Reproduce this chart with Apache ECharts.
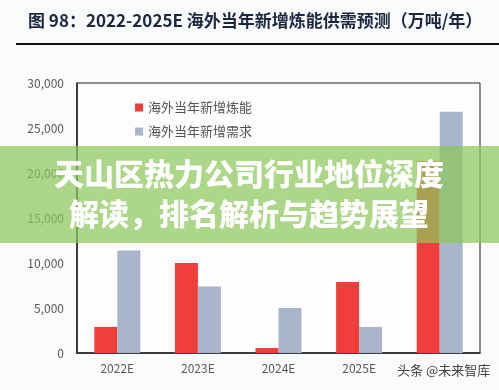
<!DOCTYPE html>
<html>
<head>
<meta charset="utf-8">
<script src="https://cdn.jsdelivr.net/npm/echarts@6/dist/echarts.min.js"></script>
<style>
html,body{margin:0;padding:0;background:#fafbfc;}
#c{width:499px;height:390px;}
</style>
</head>
<body>
<div id="c"></div>
<script>
var categories = ['2022E', '2023E', '2024E', '2025E', '合计'];
var supplyName = '海外当年新增炼能';
var demandName = '海外当年新增需求';
var supplyValues = [2900, 10000, 550, 7900, 21300];
var demandValues = [11400, 7400, 5000, 2900, 26800];
var yTicks = [0, 5000, 10000, 15000, 20000, 25000, 30000];
var titleText = '图 98：2022-2025E 海外当年新增炼能供需预测（万吨/年）';
var bannerLine1 = '天山区热力公司行业地位深度';
var bannerLine2 = '解读，排名解析与趋势展望';
var watermarkText = '头条 @未来智库';

var chart = echarts.init(document.getElementById('c'), null, {renderer: 'canvas'});
var font = '"Noto Sans CJK SC", "Noto Sans", sans-serif';
chart.setOption({
  backgroundColor: '#fafbfc',
  animation: false,
  textStyle: {fontFamily: font},
  grid: {left: 77, right: 19, top: 83, bottom: 37, show: true, borderColor: '#222', borderWidth: 1, backgroundColor: '#fdfdfe'},
  legend: {
    orient: 'vertical', left: 130, top: 96, itemWidth: 8, itemHeight: 8, itemGap: 11,
    icon: 'rect',
    textStyle: {fontSize: 13, color: '#555', fontFamily: font},
    data: [supplyName, demandName]
  },
  xAxis: {
    type: 'category', data: categories,
    axisLine: {lineStyle: {color: '#222', width: 1.5}},
    axisTick: {show: false},
    axisLabel: {color: '#595959', fontSize: 12, margin: 9,
      formatter: function (v, i) { return i < 4 ? v : ''; }}
  },
  yAxis: {
    type: 'value', min: yTicks[0], max: yTicks[yTicks.length - 1], interval: yTicks[1] - yTicks[0],
    axisLine: {show: true, lineStyle: {color: '#222', width: 1.5}},
    axisTick: {show: false},
    splitLine: {show: false},
    axisLabel: {color: '#595959', fontSize: 12, margin: 13,
      formatter: function (v) { return v.toLocaleString('en-US'); }}
  },
  series: [
    {name: supplyName, type: 'bar', data: supplyValues, barWidth: 23, barGap: '0%', itemStyle: {color: '#f23d3d'}},
    {name: demandName, type: 'bar', data: demandValues, barWidth: 23, barGap: '0%', itemStyle: {color: '#a8b5cc'}}
  ],
  graphic: [
    {type: 'text', left: 28, top: 12, style: {text: titleText, fontSize: 17, fontWeight: 'bold', fill: '#1c2740', fontFamily: font}},
    {type: 'line', shape: {x1: 16, y1: 44, x2: 499, y2: 44}, style: {stroke: '#111', lineWidth: 2}},
    {type: 'rect', shape: {x: 0, y: 146, width: 499, height: 97}, style: {fill: 'rgba(140,200,90,0.72)'}, z: 100},
    {type: 'text', x: 249, y: 174, z: 101, style: {text: bannerLine1, fontSize: 30, fontWeight: 900, fill: '#fff', align: 'center', verticalAlign: 'middle', fontFamily: font}},
    {type: 'text', x: 249, y: 214, z: 101, style: {text: bannerLine2, fontSize: 30, fontWeight: 900, fill: '#fff', align: 'center', verticalAlign: 'middle', fontFamily: font}},
    {type: 'text', left: 397, top: 364, z: 101, style: {text: watermarkText, fontSize: 13, fill: '#444', fontFamily: font}}
  ]
});
</script>
</body>
</html>
